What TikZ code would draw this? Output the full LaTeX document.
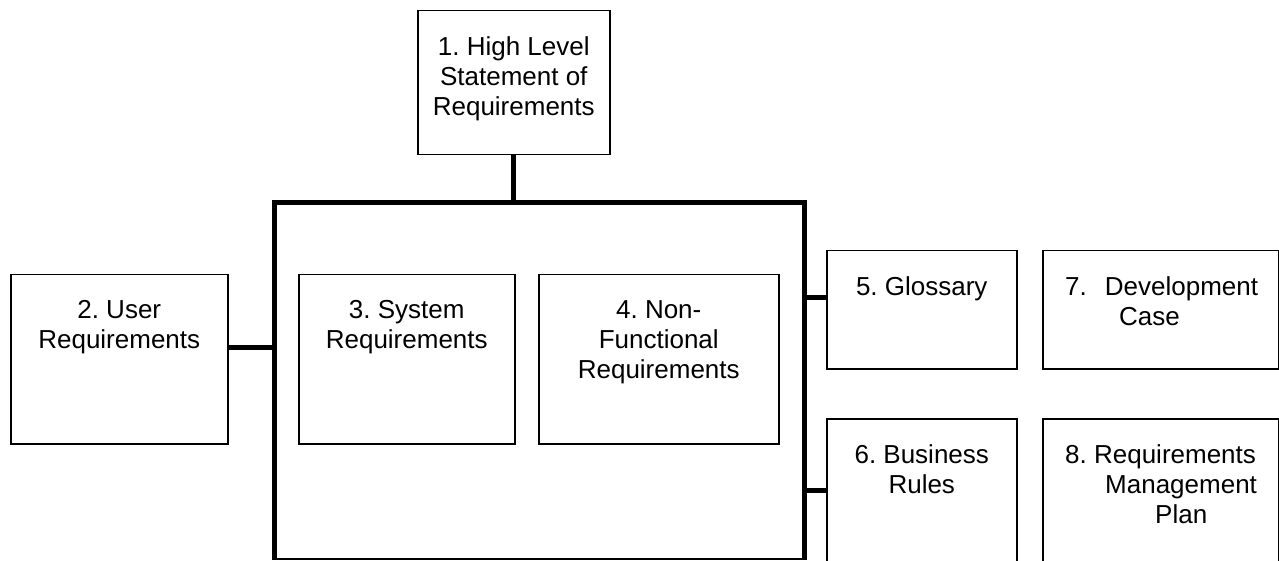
\documentclass[tikz,border=0pt]{standalone}
\usepackage{fontspec}
\setmainfont{Liberation Sans}
\usetikzlibrary{positioning}
\frenchspacing

\begin{document}
\begin{tikzpicture}[x=1pt,y=-1pt,
  box/.style={draw,line width=1.5pt,anchor=north west,inner sep=0pt},
  bus/.style={line width=5pt},
  box text/.style={font=\fontsize{26}{30}\selectfont,inner sep=0pt,align=center}]

 \useasboundingbox (0,0) rectangle (1279,561);
 \clip (0,0) rectangle (1279,561);

 % boxes
 \node[box,minimum width=192pt,minimum height=144pt] (b1) at (417,10) {};
 \node[draw,line width=1.5pt,anchor=north west,minimum width=529pt,minimum height=355pt] (sys) at (274,203) {};
 \node[box,minimum width=217pt,minimum height=169pt] (b2) at (10,274) {};
 \node[box,minimum width=216pt,minimum height=169pt] (b3) at (298,274) {};
 \node[box,minimum width=240pt,minimum height=169pt] (b4) at (538,274) {};
 \node[box,minimum width=190pt,minimum height=118pt] (b5) at (826,250) {};
 \node[box,minimum width=190pt,minimum height=169pt] (b6) at (826,418) {};
 \node[box,minimum width=236pt,minimum height=118pt] (b7) at (1042,250) {};
 \node[box,minimum width=236pt,minimum height=169pt] (b8) at (1042,418) {};

 % texts
 \node[box text,below=26pt of b1.north] (t1) {1. High Level\\Statement of\\Requirements};
 \node[box text,below=26pt of b2.north] (t2) {2. User\\Requirements};
 \node[box text,below=26pt of b3.north] (t3) {3. System\\Requirements};
 \node[box text,below=26pt of b4.north] (t4) {4. Non-\\Functional\\Requirements};
 \node[box text,below=26pt of b5.north] (t5) {5. Glossary};
 \node[box text,below=26pt of b6.north] (t6) {6. Business\\Rules};
 \node[box text,align=left,below right=26pt and 23pt of b7.north west] (t7) {7.\hspace{18pt}Development\\\hspace*{54pt}Case};
 \node[box text,align=left,below right=26pt and 23pt of b8.north west] (t8) {8. Requirements\\\hspace*{40pt}Management\\\hspace*{90pt}Plan};

 % connectors
 \coordinate (j2) at ([yshift=11.5pt]b2.east);
 \coordinate (j5) at ([yshift=12pt]b5.west);
 \coordinate (j6) at ([yshift=12.5pt]b6.west);

 \draw[bus] (b1.south) -- (b1.south |- sys.north);
 \draw[bus] (sys.south west) -- (sys.north west) -- (sys.north east) -- (sys.south east);
 \draw[bus] (j2) -- (j2 -| sys.west);
 \draw[bus] (j5) -- (j5 -| sys.east);
 \draw[bus] (j6) -- (j6 -| sys.east);

\end{tikzpicture}
\end{document}
